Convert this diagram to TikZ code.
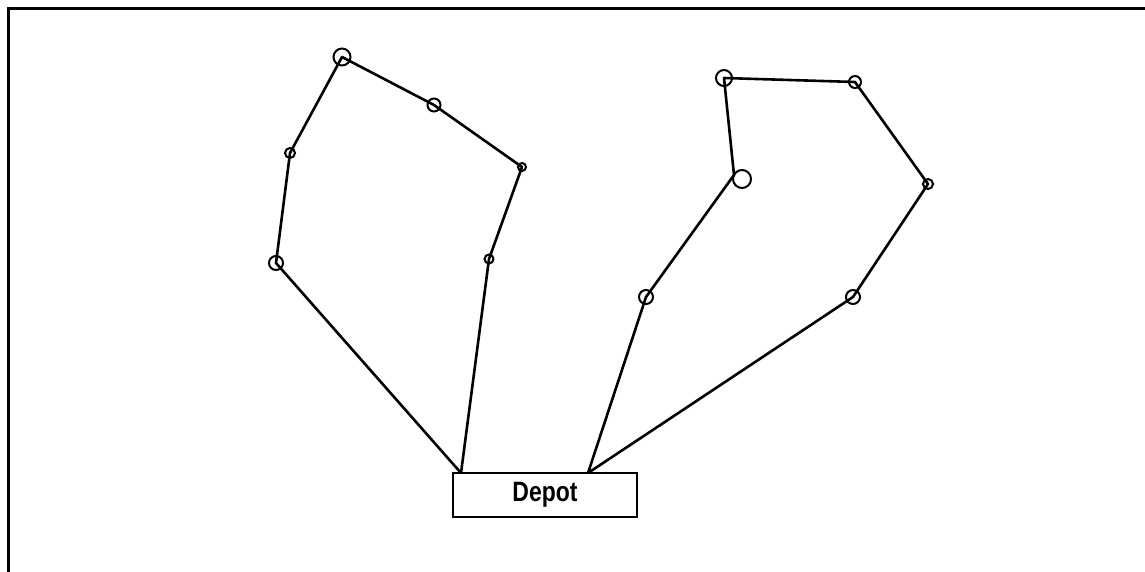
\documentclass[tikz,border=0pt]{standalone}
\usepackage{fontspec}
\setmainfont{Liberation Sans}
\begin{document}
\begin{tikzpicture}[x=1pt,y=-1pt,
  route/.style={line width=2.6pt,line join=round},
  stop/.style={circle,draw,line width=2pt,inner sep=0pt,minimum size=#1},
  stop/.default=10pt,
  depotbox/.style={draw,line width=2pt,minimum width=184pt,minimum height=44pt,inner sep=0pt,
    font=\bfseries\fontsize{28}{28}\selectfont}]
\useasboundingbox (0,0) rectangle (1145,572);
% frame: top and left edges only
\draw[line width=3pt] (8,572) -- (8,9) -- (1145,9);

% depot
\node[depotbox] (depot) at (545,495) {\scalebox{0.82}[1]{Depot}};
\coordinate (dl) at (461,473);
\coordinate (dr) at (588,473);

% first tour
\node[stop=14pt] (a1) at (276,263) {};
\node[stop=10pt] (a2) at (290,153) {};
\node[stop=17pt] (a3) at (342,57) {};
\node[stop=13pt] (a4) at (434,105) {};
\node[stop=8pt]  (a5) at (522,167) {};
\node[stop=9pt]  (a6) at (489,259) {};

% second tour
\node[stop=14pt] (b1) at (646,297) {};
\node[stop=18pt] (b2) at (742,179) {};
\node[stop=16pt] (b3) at (724,78) {};
\node[stop=12pt] (b4) at (855,82) {};
\node[stop=10pt] (b5) at (928,184) {};
\node[stop=14pt] (b6) at (853,297) {};

\draw[route] (dl) -- (a1.center) -- (a2.center) -- (a3.center) -- (a4.center)
  -- (a5.center) -- (a6.center) -- (dl);
\draw[route] (dr) -- (b1.center) -- ([xshift=-8pt,yshift=4pt]b2.center) -- (b3.center)
  -- (b4.center) -- (b5.center) -- (b6.center) -- (dr);
\end{tikzpicture}
\end{document}
